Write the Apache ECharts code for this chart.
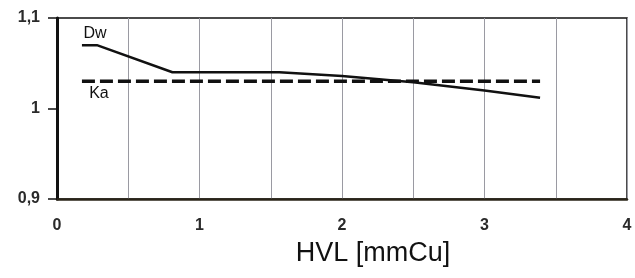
<!DOCTYPE html>
<html lang="en">
  <head>
    <meta charset="UTF-8" />
    <title>HVL chart</title>
    <script src="https://cdn.jsdelivr.net/npm/echarts@6/dist/echarts.min.js"></script>
    <style>
      body { margin: 0; background: #fff; }
    </style>
  </head>
  <body>
    <div id="chart" style="width: 635px; height: 278px"></div>

    <script type="text/javascript">
      // values
      const dwHvl = [0.175, 0.28, 0.81, 1.56, 2.0, 2.5, 3.0, 3.39];
      const dwValues = [1.07, 1.07, 1.04, 1.04, 1.036, 1.029, 1.02, 1.012];
      const kaHvl = [0.175, 3.39];
      const kaValues = [1.03, 1.03];
      const yTicks = [0.9, 1.0, 1.1];
      const xTicks = [0, 1, 2, 3, 4];

      let chart = echarts.init(document.getElementById("chart"));

      const fontFamily = "Liberation Sans, Arial, sans-serif";

      const dwData = dwHvl.map((x, i) => [x, dwValues[i]]);
      const kaData = kaHvl.map((x, i) => [x, kaValues[i]]);

      // curve names shown next to the first point of each line
      dwData[0] = {
        value: dwData[0],
        label: { show: true, formatter: "Dw", position: "top", offset: [13, 1] },
      };
      kaData[0] = {
        value: kaData[0],
        label: { show: true, formatter: "Ka", position: "bottom", offset: [17, -1] },
      };

      const option = {
        animation: false,
        grid: {
          left: 57,
          right: 8,
          top: 18,
          bottom: 79,
          show: true,
          borderColor: "#111",
          borderWidth: 1.5,
        },
        xAxis: {
          type: "value",
          min: 0,
          max: 4,
          interval: 0.5,
          name: "HVL [mmCu]",
          nameLocation: "middle",
          nameGap: 41,
          nameTextStyle: {
            fontFamily: fontFamily,
            fontSize: 27,
            color: "#111",
            padding: [0, 0, 0, 62],
          },
          axisLine: { lineStyle: { color: "#2a2418", width: 2.5 } },
          axisTick: { show: false },
          axisLabel: {
            margin: 19,
            fontFamily: fontFamily,
            fontSize: 16,
            fontWeight: "bold",
            color: "#2a2a2a",
            formatter: (v) => (xTicks.includes(v) ? String(v) : ""),
          },
          splitLine: { show: true, lineStyle: { color: "#9a9aa2", width: 1 } },
        },
        yAxis: {
          type: "value",
          min: 0.9,
          max: 1.1,
          interval: 0.1,
          axisLine: { show: true, lineStyle: { color: "#111", width: 3 } },
          axisTick: { show: true, length: 9, lineStyle: { color: "#111", width: 1.5 } },
          axisLabel: {
            margin: 17,
            fontFamily: fontFamily,
            fontSize: 16,
            fontWeight: "bold",
            color: "#2a2a2a",
            formatter: (v) => {
              const t = yTicks.find((y) => Math.abs(y - v) < 1e-6);
              return t === undefined ? "" : String(+t.toFixed(1)).replace(".", ",");
            },
          },
          splitLine: { show: false },
        },
        series: [
          {
            name: "Dw",
            type: "line",
            data: dwData,
            symbol: "circle",
            symbolSize: 0,
            showSymbol: true,
            lineStyle: { color: "#111", width: 2.5 },
            itemStyle: { color: "#111" },
            label: {
              fontFamily: fontFamily,
              fontSize: 16,
              color: "#111",
            },
          },
          {
            name: "Ka",
            type: "line",
            data: kaData,
            symbol: "circle",
            symbolSize: 0,
            showSymbol: true,
            lineStyle: { color: "#111", width: 3.5, type: [13, 5] },
            itemStyle: { color: "#111" },
            label: {
              fontFamily: fontFamily,
              fontSize: 16,
              color: "#111",
            },
          },
        ],
      };

      chart.setOption(option);
    </script>
  </body>
</html>
